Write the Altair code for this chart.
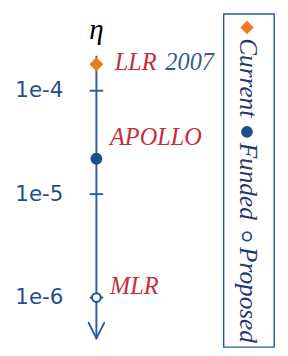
import altair as alt
import pandas as pd

# ---- data ----
point_names = ["LLR", "APOLLO", "MLR"]
point_suffix = ["2007", "", ""]
point_values = [1.8e-4, 2.2e-5, 1.0e-6]
point_status = ["Current", "Funded", "Proposed"]

tick_values = [1e-4, 1e-5, 1e-6]
tick_labels = ["1e-4", "1e-5", "1e-6"]

legend_items = ["Current", "Funded", "Proposed"]
axis_title = ["η"]

# ---- styles ----
BLUE = "#2b5c9e"
DARKBLUE = "#1f4e8a"
NAVY = "#1f3a6b"
RED = "#c23039"
SUFFIX = "#3d5a86"
ORANGE = "#f07a1e"
SERIF = "Liberation Serif"

points_df = pd.DataFrame({"name": point_names, "suffix": point_suffix,
                          "value": point_values, "status": point_status})
ticks_df = pd.DataFrame({"value": tick_values, "label": tick_labels})
legend_df = pd.DataFrame({"status": legend_items})
title_df = pd.DataFrame({"t": axis_title})
one = pd.DataFrame({"a": [0]})

yscale = alt.Scale(type="log", domain=[3.045e-7, 5.638e-4], nice=False)
Y = alt.Y("value:Q", scale=yscale, axis=None)

shape_enc = alt.Shape("status:N", scale=alt.Scale(domain=legend_items, range=["diamond", "circle", "circle"]), legend=None)
fill_enc = alt.Fill("status:N", scale=alt.Scale(domain=legend_items, range=[ORANGE, DARKBLUE, "white"]), legend=None)
stroke_enc = alt.Stroke("status:N", scale=alt.Scale(domain=legend_items, range=[ORANGE, DARKBLUE, DARKBLUE]), legend=None)
size_enc = alt.Size("status:N", scale=alt.Scale(domain=legend_items, range=[130, 80, 60]), legend=None)

axis_line = alt.Chart(one).mark_rule(color=BLUE, strokeWidth=2).encode(
    x=alt.value(91), y=alt.value(44), y2=alt.value(335))
wing_l = alt.Chart(one).mark_rule(color=BLUE, strokeWidth=2, strokeCap="round").encode(
    x=alt.value(83), x2=alt.value(91), y=alt.value(319), y2=alt.value(335))
wing_r = alt.Chart(one).mark_rule(color=BLUE, strokeWidth=2, strokeCap="round").encode(
    x=alt.value(99), x2=alt.value(91), y=alt.value(319), y2=alt.value(335))

ticks = alt.Chart(ticks_df).mark_rule(color=BLUE, strokeWidth=2).encode(
    y=Y, x=alt.value(84), x2=alt.value(98))
tick_text = alt.Chart(ticks_df).mark_text(
    align="right", baseline="middle", font="DejaVu Sans", fontSize=22, color=DARKBLUE
).encode(y=Y, x=alt.value(57), text="label:N")

pts = alt.Chart(points_df).mark_point(filled=True, strokeWidth=2, opacity=1).encode(
    y=Y, x=alt.value(91), shape=shape_enc, fill=fill_enc, stroke=stroke_enc, size=size_enc)

def label(name, x, dy):
    return alt.Chart(points_df).transform_filter(alt.datum.name == name).mark_text(
        align="left", baseline="middle", dy=dy, font=SERIF, fontStyle="italic",
        fontSize=25, color=RED
    ).encode(y=Y, x=alt.value(x), text="name:N")

lbl_llr = label("LLR", 110, -2)
lbl_2007 = alt.Chart(points_df).transform_filter(alt.datum.name == "LLR").mark_text(
    align="left", baseline="middle", dy=-2, font=SERIF, fontStyle="italic",
    fontSize=25, color=SUFFIX
).encode(y=Y, x=alt.value(162), text="suffix:N")
lbl_apollo = label("APOLLO", 105, -22)
lbl_mlr = label("MLR", 105, -12)

eta = alt.Chart(title_df).mark_text(
    align="center", baseline="alphabetic", font=SERIF, fontStyle="italic", fontSize=30, color="black"
).encode(x=alt.value(91), y=alt.value(27), text="t:N")

main = alt.layer(axis_line, wing_l, wing_r, ticks, tick_text, pts,
                 lbl_llr, lbl_2007, lbl_apollo, lbl_mlr, eta)

LY = alt.Y("status:N", scale=alt.Scale(type="point", domain=legend_items, range=[15, 230], padding=0), axis=None)
box = alt.Chart(one).mark_rect(fillOpacity=0, stroke=BLUE, strokeWidth=1.5).encode(
    x=alt.value(222), x2=alt.value(274), y=alt.value(1), y2=alt.value(344))
leg_sym = alt.Chart(legend_df).mark_point(filled=True, strokeWidth=1.8, opacity=1).encode(
    y=LY, x=alt.value(246), shape=shape_enc, fill=fill_enc, stroke=stroke_enc, size=size_enc)
leg_txt = alt.Chart(legend_df).mark_text(
    angle=90, align="left", baseline="middle", dx=11, font=SERIF, fontStyle="italic",
    fontSize=26, color=NAVY
).encode(y=LY, x=alt.value(247), text="status:N")

legend = alt.layer(box, leg_sym, leg_txt)

chart = alt.layer(main, legend).resolve_scale(y="independent").properties(
    width=280, height=348, autosize="none", padding=0, background="white"
).configure_view(stroke=None)

chart.save("out.html", embed_options={"renderer": "svg", "actions": False})
